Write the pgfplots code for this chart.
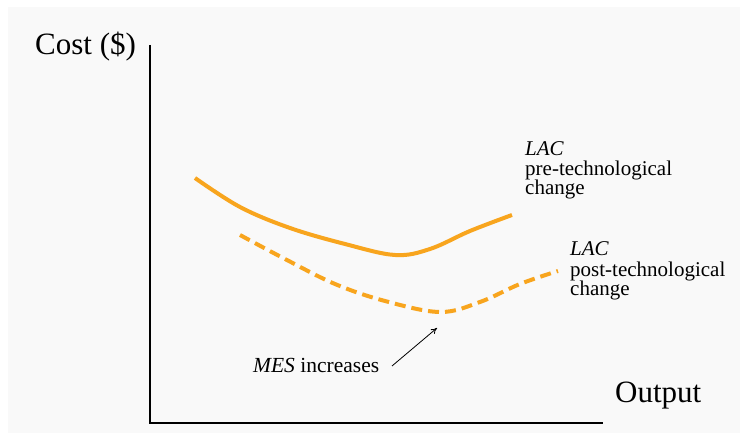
\documentclass[border=0pt]{standalone}
\usepackage{pgfplots}
\pgfplotsset{compat=1.18}
\usepackage{fontspec}
\setmainfont{Liberation Serif}
\usetikzlibrary{arrows.meta}
\definecolor{lacor}{RGB}{248,165,30}
\definecolor{bg}{RGB}{249,249,249}
\begin{document}
\begin{tikzpicture}
\begin{axis}[x=1pt,y=1pt,xmin=0,xmax=740,ymin=0,ymax=435,hide axis,clip=false]
\fill[white] (axis cs:0,0) rectangle (axis cs:740,435);
\fill[bg] (axis cs:8,2) rectangle (axis cs:740,428);
\draw[line width=2pt,black] (axis cs:150,390) -- (axis cs:150,12) -- (axis cs:603,12);
% pre-technological LAC (pixel x, 435 - pixel y)
\addplot[lacor,line width=4pt,smooth,tension=0.6,no marks] coordinates {
(195,257) (240,228) (290,207) (345,191) (395,180) (430,186) (470,204) (512,220)
};
% post-technological LAC
\addplot[lacor,line width=4pt,smooth,tension=0.6,no marks,dash pattern=on 11pt off 6pt] coordinates {
(240,200) (285,176) (335,151) (385,134) (440,123) (480,133) (520,151) (558,164)
};
\node[anchor=base west,font=\fontsize{31}{31}\selectfont,inner sep=0pt] at (axis cs:35,380) {Cost (\$)};
\node[anchor=base west,font=\fontsize{31}{31}\selectfont,inner sep=0pt] at (axis cs:615,32) {Output};
\node[anchor=base west,font=\fontsize{21}{20}\selectfont,inner sep=0pt] at (axis cs:525,279) {\textit{LAC}};
\node[anchor=base west,font=\fontsize{21}{20}\selectfont,inner sep=0pt] at (axis cs:525,259.5) {pre-technological};
\node[anchor=base west,font=\fontsize{21}{20}\selectfont,inner sep=0pt] at (axis cs:525,240) {change};
\node[anchor=base west,font=\fontsize{21}{20}\selectfont,inner sep=0pt] at (axis cs:570,179.5) {\textit{LAC}};
\node[anchor=base west,font=\fontsize{21}{20}\selectfont,inner sep=0pt] at (axis cs:570,158.5) {post-technological};
\node[anchor=base west,font=\fontsize{21}{20}\selectfont,inner sep=0pt] at (axis cs:570,139.5) {change};
\node[anchor=base west,font=\fontsize{21.5}{20}\selectfont,inner sep=0pt] at (axis cs:253,62) {\textit{MES} increases};
\draw[black,line width=0.8pt,-{To[length=6pt,width=6pt]}] (axis cs:392,69) -- (axis cs:437,107);
\end{axis}
\end{tikzpicture}
\end{document}
